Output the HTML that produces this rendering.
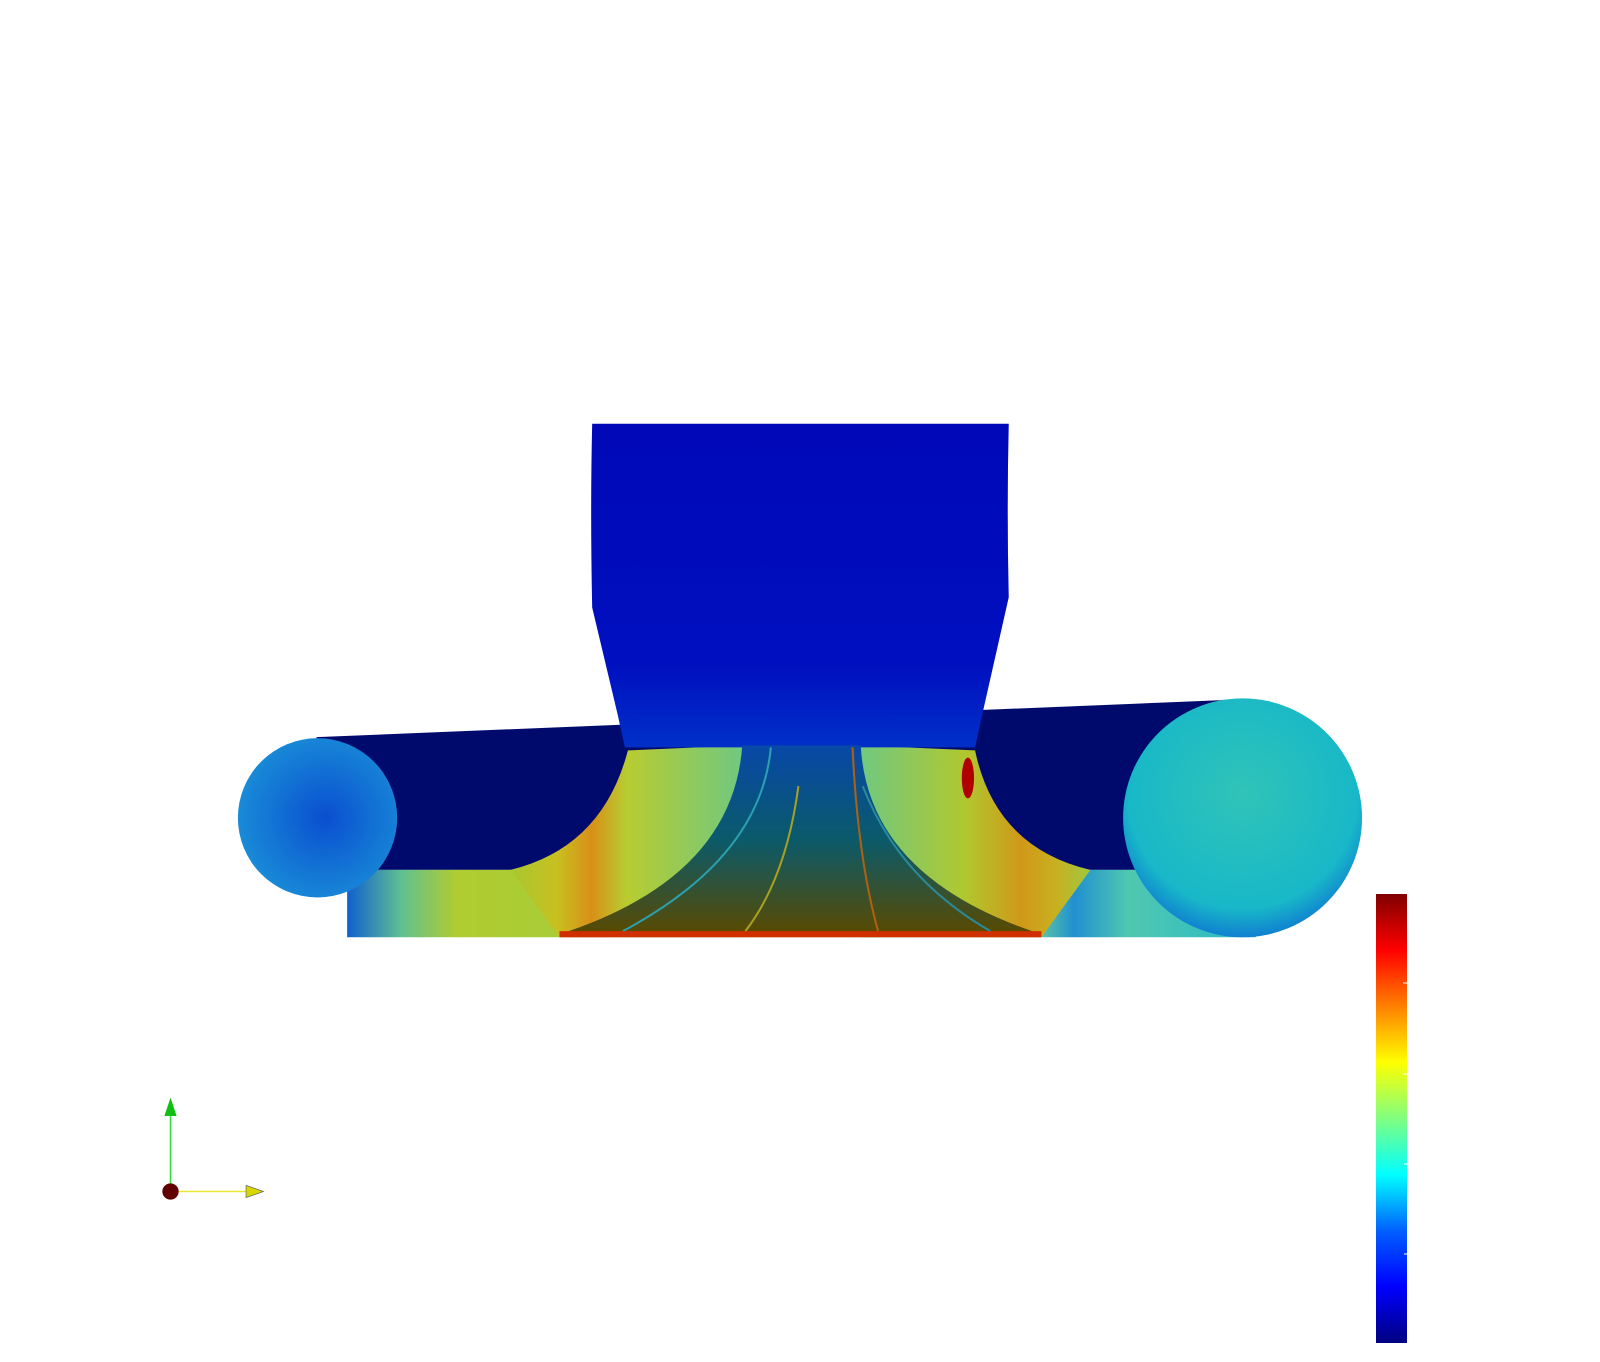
<!DOCTYPE html>
<html><head><meta charset="utf-8"><style>
html,body{margin:0;padding:0;background:#fff;}
svg{display:block;}
</style></head><body>
<svg width="1600" height="1362" viewBox="0 0 1600 1362" xmlns="http://www.w3.org/2000/svg">
<defs>
<linearGradient id="jet" x1="0" y1="1" x2="0" y2="0">
<stop offset="0" stop-color="#000080"/><stop offset="0.125" stop-color="#0000ff"/>
<stop offset="0.25" stop-color="#0060ff"/><stop offset="0.375" stop-color="#00ffff"/>
<stop offset="0.5" stop-color="#80ff80"/><stop offset="0.625" stop-color="#ffff00"/>
<stop offset="0.75" stop-color="#ff8000"/><stop offset="0.875" stop-color="#ff0000"/>
<stop offset="1" stop-color="#800000"/></linearGradient>
<linearGradient id="inlet" x1="0" y1="0" x2="0" y2="1">
<stop offset="0" stop-color="#0008b8"/><stop offset="0.75" stop-color="#0010c0"/><stop offset="1" stop-color="#0030c8"/></linearGradient>
<linearGradient id="imp" x1="0" y1="0" x2="0" y2="1">
<stop offset="0" stop-color="#0848a8"/><stop offset="0.5" stop-color="#0a5a6a"/><stop offset="1" stop-color="#5a4a00"/></linearGradient>
<linearGradient id="band" x1="340" y1="0" x2="1230" y2="0" gradientUnits="userSpaceOnUse">
<stop offset="0" stop-color="#1060d0"/><stop offset="0.06" stop-color="#60c090"/><stop offset="0.12" stop-color="#b0cc30"/><stop offset="0.25" stop-color="#a8cc38"/>
<stop offset="0.5" stop-color="#a0c838"/><stop offset="0.76" stop-color="#60c8a0"/><stop offset="0.8" stop-color="#2090d0"/><stop offset="0.86" stop-color="#50c8b0"/><stop offset="1" stop-color="#28b8c8"/></linearGradient>
<radialGradient id="lc" cx="0.55" cy="0.5" r="0.6"><stop offset="0" stop-color="#0a4fd0"/><stop offset="1" stop-color="#1a90d8"/></radialGradient>
<radialGradient id="rc" cx="0.5" cy="0.4" r="0.6"><stop offset="0" stop-color="#30c4b8"/><stop offset="0.8" stop-color="#18b8c8"/><stop offset="1" stop-color="#1080d0"/></radialGradient>
<linearGradient id="swirlL" x1="0" y1="0" x2="1" y2="0">
<stop offset="0" stop-color="#a8c830"/><stop offset="0.2" stop-color="#c8c020"/><stop offset="0.35" stop-color="#d89018"/><stop offset="0.5" stop-color="#b8cc30"/><stop offset="1" stop-color="#70c880"/></linearGradient>
<linearGradient id="swirlR" x1="0" y1="0" x2="1" y2="0">
<stop offset="0" stop-color="#70c880"/><stop offset="0.45" stop-color="#b0c830"/><stop offset="0.7" stop-color="#d09818"/><stop offset="0.85" stop-color="#c8b020"/><stop offset="1" stop-color="#a0c840"/></linearGradient>
</defs>
<g transform="scale(1.021)">
<path d="M310 722 L1215 685 L1215 852 L310 852 Z" fill="#000a6c"/>
<path d="M340 852 L1230 852 L1230 918 L340 918 Z" fill="url(#band)"/>
<path d="M615 735 L727 730 L727 918 L548 918 L500 852 Q590 830 615 735 Z" fill="url(#swirlL)"/>
<path d="M843 730 L955 735 Q975 830 1068 852 L1020 918 L843 918 Z" fill="url(#swirlR)"/>
<ellipse cx="948" cy="762" rx="6" ry="20" fill="#b00000"/>
<circle cx="311" cy="801" r="78" fill="url(#lc)"/>
<circle cx="1217" cy="801" r="117" fill="url(#rc)"/>
<path d="M580 415 L988 415 Q986 500 988 585 L962 700 L955 732 L612 732 L605 700 L580 595 Q578 500 580 415 Z" fill="url(#inlet)"/>
<path d="M727 730 L843 730 Q850 860 1020 915 L548 915 Q718 860 727 730 Z" fill="url(#imp)"/>
<g fill="none" stroke-width="2">
<path d="M755 732 Q745 840 610 912" stroke="#2aa0b0"/>
<path d="M782 770 Q770 860 730 912" stroke="#a8a020"/>
<path d="M835 732 Q840 840 860 912" stroke="#b06010"/>
<path d="M845 770 Q880 860 970 912" stroke="#2a8a9a"/>
</g>
<rect x="548" y="912" width="472" height="6" fill="#d03000"/>
<line x1="167" y1="1167" x2="167" y2="1090" stroke="#30e030" stroke-width="1.5"/>
<polygon points="167,1075 161,1093 173,1093" fill="#10c010"/>
<line x1="167" y1="1167" x2="242" y2="1167" stroke="#e8e830" stroke-width="1.5"/>
<polygon points="258,1167 241,1161 241,1173" fill="#d8d800" stroke="#666" stroke-width="0.7"/>
<circle cx="167" cy="1167" r="8" fill="#600000"/>
</g>
<g>
<rect x="1376" y="894" width="31" height="449" fill="url(#jet)"/>
<g stroke="#fff" stroke-width="1">
<line x1="1403" y1="983" x2="1407" y2="983"/><line x1="1403" y1="1074" x2="1407" y2="1074"/>
<line x1="1404" y1="1164" x2="1407" y2="1164"/><line x1="1404" y1="1254" x2="1407" y2="1254"/>
</g></g>
</svg>
</body></html>
